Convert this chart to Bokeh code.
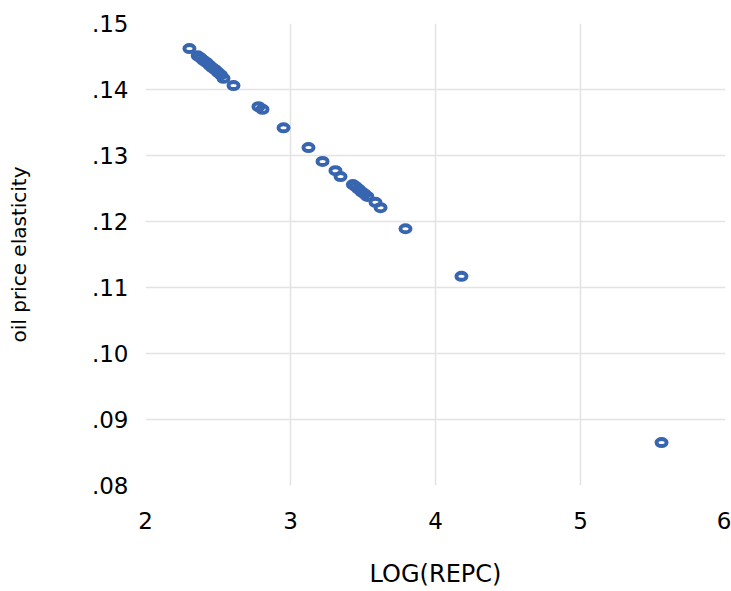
from bokeh.plotting import figure
from bokeh.models import FixedTicker, CustomJSTickFormatter, Range1d, ColumnDataSource
from bokeh.embed import file_html
from bokeh.resources import INLINE

log_repc = [2.303, 2.36, 2.38, 2.40, 2.42, 2.44, 2.46, 2.48, 2.50, 2.52, 2.538, 2.607,
            2.779, 2.807, 2.952, 3.124, 3.221, 3.310, 3.345,
            3.43, 3.45, 3.47, 3.49, 3.51, 3.53, 3.586, 3.621, 3.793, 4.179, 5.559]
elasticity = [0.1462, 0.1451, 0.1448, 0.1444, 0.1441, 0.1437, 0.1433, 0.1430, 0.1426, 0.1422,
              0.1417, 0.1406, 0.1374, 0.1370, 0.1342, 0.1312, 0.1291, 0.1277, 0.1268,
              0.1256, 0.1253, 0.1249, 0.1245, 0.1242, 0.1238, 0.1229, 0.1221, 0.1189,
              0.1117, 0.0865]
x_ticks = [2, 3, 4, 5, 6]
y_ticks = [0.08, 0.09, 0.10, 0.11, 0.12, 0.13, 0.14, 0.15]
x_grid = [3, 4, 5]
y_grid = [0.09, 0.10, 0.11, 0.12, 0.13, 0.14]

src = ColumnDataSource(dict(x=log_repc, y=elasticity))

p = figure(width=731, height=591, output_backend="svg", toolbar_location=None,
           x_range=Range1d(2, 6), y_range=Range1d(0.08, 0.15),
           min_border_left=145, min_border_right=6, min_border_top=23,
           min_border_bottom=106)
p.outline_line_color = None
p.background_fill_color = "white"

p.ellipse(x="x", y="y", width=10, height=7, width_units="screen", height_units="screen",
          source=src, fill_color=None, line_color="#3865b0", line_width=4)

for ax in (p.xaxis[0], p.yaxis[0]):
    ax.axis_line_color = None
    ax.major_tick_line_color = None
    ax.minor_tick_line_color = None
    ax.major_tick_out = 0
    ax.major_tick_in = 0
    ax.major_label_text_font = "DejaVu Sans"
    ax.major_label_text_font_size = "23px"
    ax.major_label_text_color = "black"
    ax.axis_label_text_font = "DejaVu Sans"
    ax.axis_label_text_font_style = "normal"
    ax.axis_label_text_color = "black"

p.xaxis.ticker = FixedTicker(ticks=x_ticks)
p.yaxis.ticker = FixedTicker(ticks=y_ticks)
p.yaxis.formatter = CustomJSTickFormatter(code="return tick.toFixed(2).slice(1);")
p.xaxis.major_label_standoff = 26
p.yaxis.major_label_standoff = 17

p.xaxis.axis_label = "LOG(REPC)"
p.xaxis.axis_label_text_font_size = "24px"
p.xaxis.axis_label_standoff = 28
p.yaxis.axis_label = "oil price elasticity"
p.yaxis.axis_label_text_font_size = "20px"
p.yaxis.axis_label_standoff = 58

p.xgrid.ticker = FixedTicker(ticks=x_grid)
p.ygrid.ticker = FixedTicker(ticks=y_grid)
p.xgrid.grid_line_color = "#e3e3e3"
p.ygrid.grid_line_color = "#e3e3e3"
p.xgrid.grid_line_width = 1.5
p.ygrid.grid_line_width = 1.5

open("out.html", "w").write(file_html(p, INLINE))
